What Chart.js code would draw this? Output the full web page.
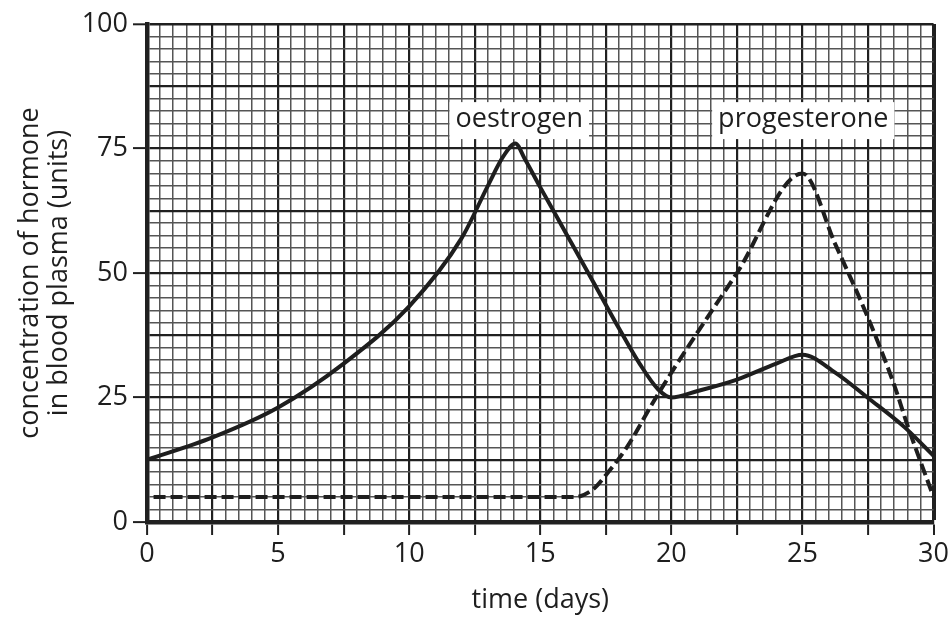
<!DOCTYPE html>
<html>
<head>
<meta charset="utf-8">
<script src="https://cdn.jsdelivr.net/npm/chart.js@4.4.1/dist/chart.umd.min.js"></script>
<style>
  html, body { margin: 0; padding: 0; background: #fff; }
  #wrap { width: 952px; height: 619px; }
</style>
</head>
<body>
<div id="wrap"><canvas id="c" width="952" height="619"></canvas></div>
<script>
// ---- data ----
const oestrogenDays   = [0, 2.5, 5, 7.5, 10, 12, 13, 13.6, 14.05, 14.4, 15, 16, 17, 18, 18.8, 19.5, 20, 21, 22.5, 24, 25, 26.25, 27.5, 28.9, 30];
const oestrogenValues = [12.5, 17, 23, 31.8, 43.3, 57, 67.5, 73.5, 76, 73, 67.2, 57.8, 48.4, 38.9, 31.7, 26.6, 25, 26.3, 28.6, 31.8, 33.6, 30, 24.9, 19, 13.3];

const progesteroneDays   = [0.25, 16.3, 17, 17.5, 18.3, 19.3, 20, 22.5, 25, 26.25, 27.5, 28.5, 29, 30];
const progesteroneValues = [5, 5, 6.5, 9.4, 15, 24, 30, 50, 70, 55.8, 41, 27.5, 19.5, 5];

const xLabels = [0, 5, 10, 15, 20, 25, 30];
const yLabels = [0, 25, 50, 75, 100];

const seriesLabels = [
  { text: 'oestrogen',    x: 14.2,  y: 80.6 },
  { text: 'progesterone', x: 25.03, y: 80.6 }
];

const xTitle = 'time (days)';
const yTitle = ['concentration of hormone', 'in blood plasma (units)'];

// ---- helpers ----
const near = (v, step) => Math.abs(v / step - Math.round(v / step)) < 1e-6;
const FONT = "'Open Sans', 'DejaVu Sans', sans-serif";
const INK = '#1e1e1e';
const FS = 27;

const toPoints = (xs, ys) => xs.map((x, i) => ({ x: x, y: ys[i] }));

const labelPlugin = {
  id: 'seriesLabels',
  afterDatasetsDraw(chart) {
    const ctx = chart.ctx;
    const xs = chart.scales.x, ys = chart.scales.y;
    ctx.save();
    ctx.font = FS + 'px ' + FONT;
    ctx.textAlign = 'center';
    ctx.textBaseline = 'middle';
    seriesLabels.forEach(l => {
      const px = xs.getPixelForValue(l.x);
      const py = ys.getPixelForValue(l.y);
      const w = ctx.measureText(l.text).width + 12;
      const h = 37;
      ctx.fillStyle = '#fff';
      ctx.fillRect(px - w / 2, py - h / 2, w, h);
      ctx.fillStyle = INK;
      ctx.fillText(l.text, px, py - 1);
    });
    ctx.restore();
  }
};

new Chart(document.getElementById('c'), {
  type: 'line',
  data: {
    datasets: [
      {
        label: 'oestrogen',
        data: toPoints(oestrogenDays, oestrogenValues),
        borderColor: INK,
        borderWidth: 4,
        pointRadius: 0,
        fill: false,
        cubicInterpolationMode: 'monotone'
      },
      {
        label: 'progesterone',
        data: toPoints(progesteroneDays, progesteroneValues),
        borderColor: INK,
        borderWidth: 4,
        borderDash: [12, 5],
        pointRadius: 0,
        fill: false,
        cubicInterpolationMode: 'monotone'
      }
    ]
  },
  options: {
    responsive: false,
    animation: false,
    devicePixelRatio: 1,
    layout: { padding: { left: 0, right: 17, top: 24, bottom: 0 } },
    plugins: {
      legend: { display: false },
      tooltip: { enabled: false }
    },
    scales: {
      x: {
        type: 'linear',
        min: 0,
        max: 30,
        afterFit(s) { s.height = 97; },
        afterBuildTicks(s) {
          const t = [];
          for (let i = 0; i <= 60; i++) t.push({ value: i * 0.5 });
          s.ticks = t;
        },
        ticks: {
          autoSkip: false,
          maxRotation: 0,
          padding: 3,
          color: INK,
          font: { family: FONT, size: FS },
          callback(v) { return xLabels.some(l => Math.abs(l - v) < 1e-6) ? String(v) : ''; }
        },
        grid: {
          drawTicks: true,
          tickLength: 13,
          color(c) {
            const v = c.tick ? c.tick.value : 0;
            return near(v, 2.5) ? '#202020' : '#555555';
          },
          lineWidth(c) {
            const v = c.tick ? c.tick.value : 0;
            if (Math.abs(v - 30) < 1e-6) return 4;
            return near(v, 2.5) ? 2.2 : 1.5;
          },
          tickColor(c) {
            const v = c.tick ? c.tick.value : 0;
            return near(v, 2.5) ? '#202020' : 'rgba(0,0,0,0)';
          },
          tickWidth: 2
        },
        border: { display: true, color: '#202020', width: 4.5 },
        title: {
          display: true,
          text: xTitle,
          color: INK,
          font: { family: FONT, size: FS, lineHeight: 1.1 },
          padding: { top: 0, bottom: 4 }
        }
      },
      y: {
        type: 'linear',
        min: 0,
        max: 100,
        afterFit(s) { s.width = 147; },
        afterBuildTicks(s) {
          const t = [];
          for (let i = 0; i <= 40; i++) t.push({ value: i * 2.5 });
          s.ticks = t;
        },
        ticks: {
          autoSkip: false,
          padding: 5,
          color: INK,
          font: { family: FONT, size: FS },
          callback(v) { return yLabels.some(l => Math.abs(l - v) < 1e-6) ? String(v) : ''; }
        },
        grid: {
          drawTicks: true,
          tickLength: 14,
          color(c) {
            const v = c.tick ? c.tick.value : 0;
            return near(v, 12.5) ? '#202020' : '#555555';
          },
          lineWidth(c) {
            const v = c.tick ? c.tick.value : 0;
            if (Math.abs(v - 100) < 1e-6) return 2.6;
            return near(v, 12.5) ? 2.2 : 1.5;
          },
          tickColor(c) {
            const v = c.tick ? c.tick.value : 0;
            return near(v, 25) ? '#202020' : 'rgba(0,0,0,0)';
          },
          tickWidth: 2
        },
        border: { display: true, color: '#202020', width: 4.5 },
        title: {
          display: true,
          text: yTitle,
          color: INK,
          font: { family: FONT, size: FS, lineHeight: 1.1 },
          padding: { top: 15, bottom: 0 }
        }
      }
    }
  },
  plugins: [labelPlugin]
});
</script>
</body>
</html>
